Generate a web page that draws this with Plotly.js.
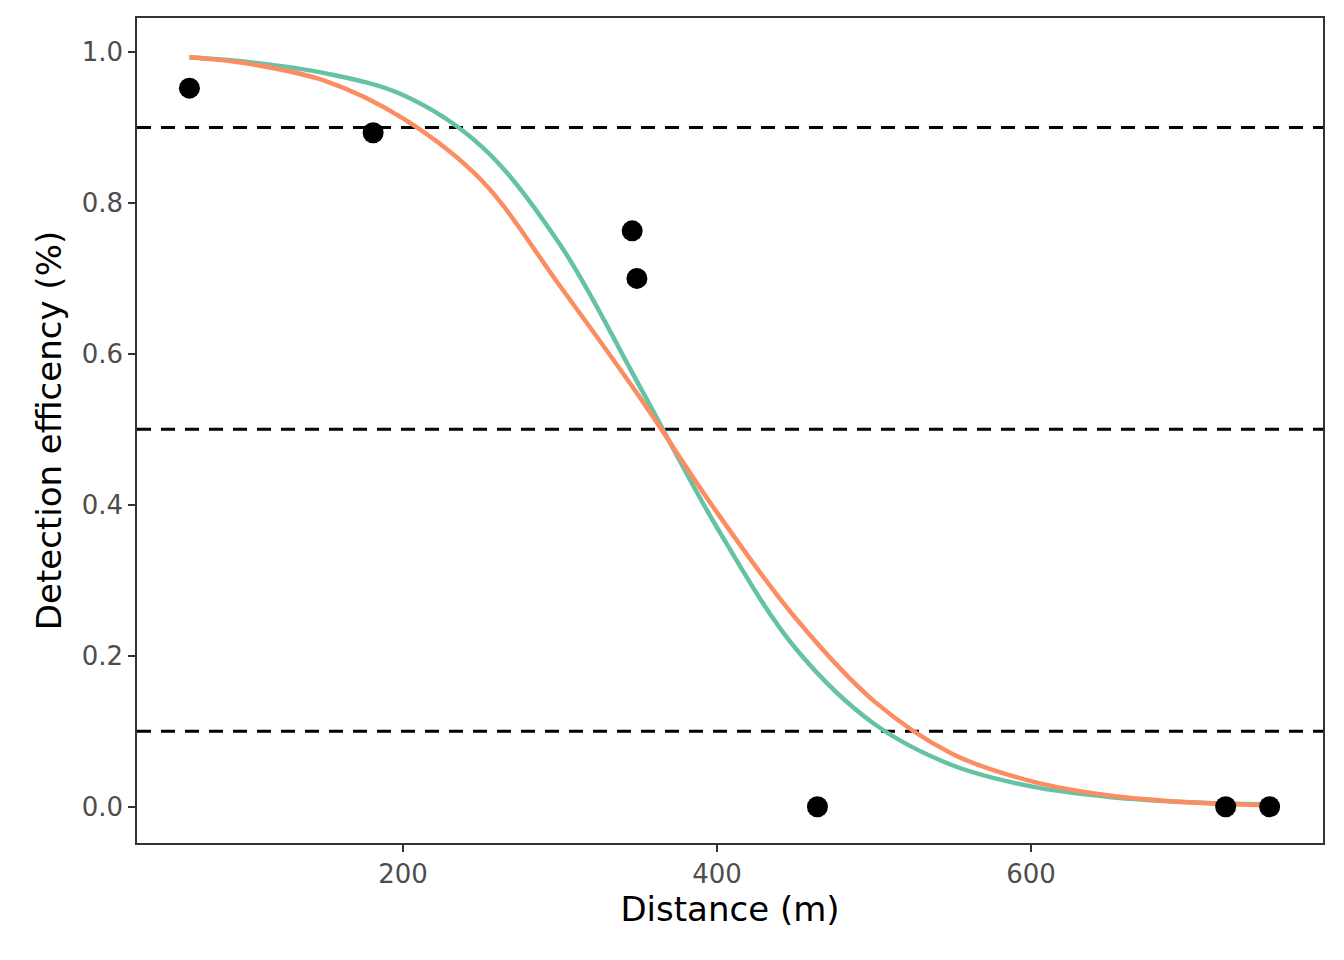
<!DOCTYPE html>
<html>
<head>
<meta charset="utf-8">
<script src="https://cdn.plot.ly/plotly-3.0.1.min.js"></script>
<style>body{margin:0;background:#fff}</style>
</head>
<body>
<div id="plot" style="width:1344px;height:960px"></div>
<script>
// observed detection points
const obsDist = [64, 181, 346, 349, 464, 724, 752];
const obsEff = [0.952, 0.893, 0.763, 0.700, 0.0, 0.0, 0.0];

// fitted curves
const curveDist = [64, 100, 150, 200, 250, 300, 350, 400, 450, 500, 550, 600, 650, 700, 752];
const fitGreen = [0.993, 0.987, 0.972, 0.943, 0.875, 0.745, 0.56, 0.37, 0.21, 0.11, 0.055, 0.027, 0.013, 0.006, 0.003];
const fitOrange = [0.993, 0.985, 0.962, 0.912, 0.83, 0.69, 0.545, 0.39, 0.25, 0.14, 0.07, 0.034, 0.015, 0.006, 0.002];

const thresholds = [0.1, 0.5, 0.9];

var data = [
  {x: curveDist, y: fitGreen, mode: 'lines', line: {color: '#66c2a5', width: 4.5, shape: 'spline'}, hoverinfo: 'none'},
  {x: curveDist, y: fitOrange, mode: 'lines', line: {color: '#fc8d62', width: 4.5, shape: 'spline'}, hoverinfo: 'none'},
  {x: obsDist, y: obsEff, mode: 'markers', marker: {color: '#000', size: 21}}
];

var shapes = thresholds.map(v => ({
  type: 'line', xref: 'paper', x0: 0, x1: 1, yref: 'y', y0: v, y1: v,
  line: {color: '#000', width: 3, dash: '14px,10px'}, layer: 'below'
}));

var layout = {
  width: 1344, height: 960,
  margin: {l: 137, r: 21, t: 18, b: 117},
  showlegend: false,
  plot_bgcolor: '#fff', paper_bgcolor: '#fff',
  font: {family: 'DejaVu Sans', color: '#000'},
  shapes: shapes,
  xaxis: {
    range: [30.6, 786], tickvals: [200, 400, 600], showgrid: false, zeroline: false,
    showline: true, mirror: true, linecolor: '#333', linewidth: 1.5,
    ticks: 'outside', ticklen: 7, tickcolor: '#333', tickwidth: 1.5,
    tickfont: {size: 26, color: '#4d4d4d'},
    title: {text: 'Distance (m)', font: {size: 34}, standoff: 8}
  },
  yaxis: {
    range: [-0.048, 1.045], tickvals: [0, 0.2, 0.4, 0.6, 0.8, 1.0],
    ticktext: ['0.0', '0.2', '0.4', '0.6', '0.8', '1.0'],
    showgrid: false, zeroline: false,
    showline: true, mirror: true, linecolor: '#333', linewidth: 1.5,
    ticks: 'outside', ticklen: 7, tickcolor: '#333', tickwidth: 1.5,
    tickfont: {size: 26, color: '#4d4d4d'},
    title: {text: 'Detection efficency (%)', font: {size: 34}, standoff: 10}
  }
};

window.addEventListener('load', () => {
  Plotly.newPlot('plot', data, layout, {displayModeBar: false});
});
</script>
</body>
</html>
